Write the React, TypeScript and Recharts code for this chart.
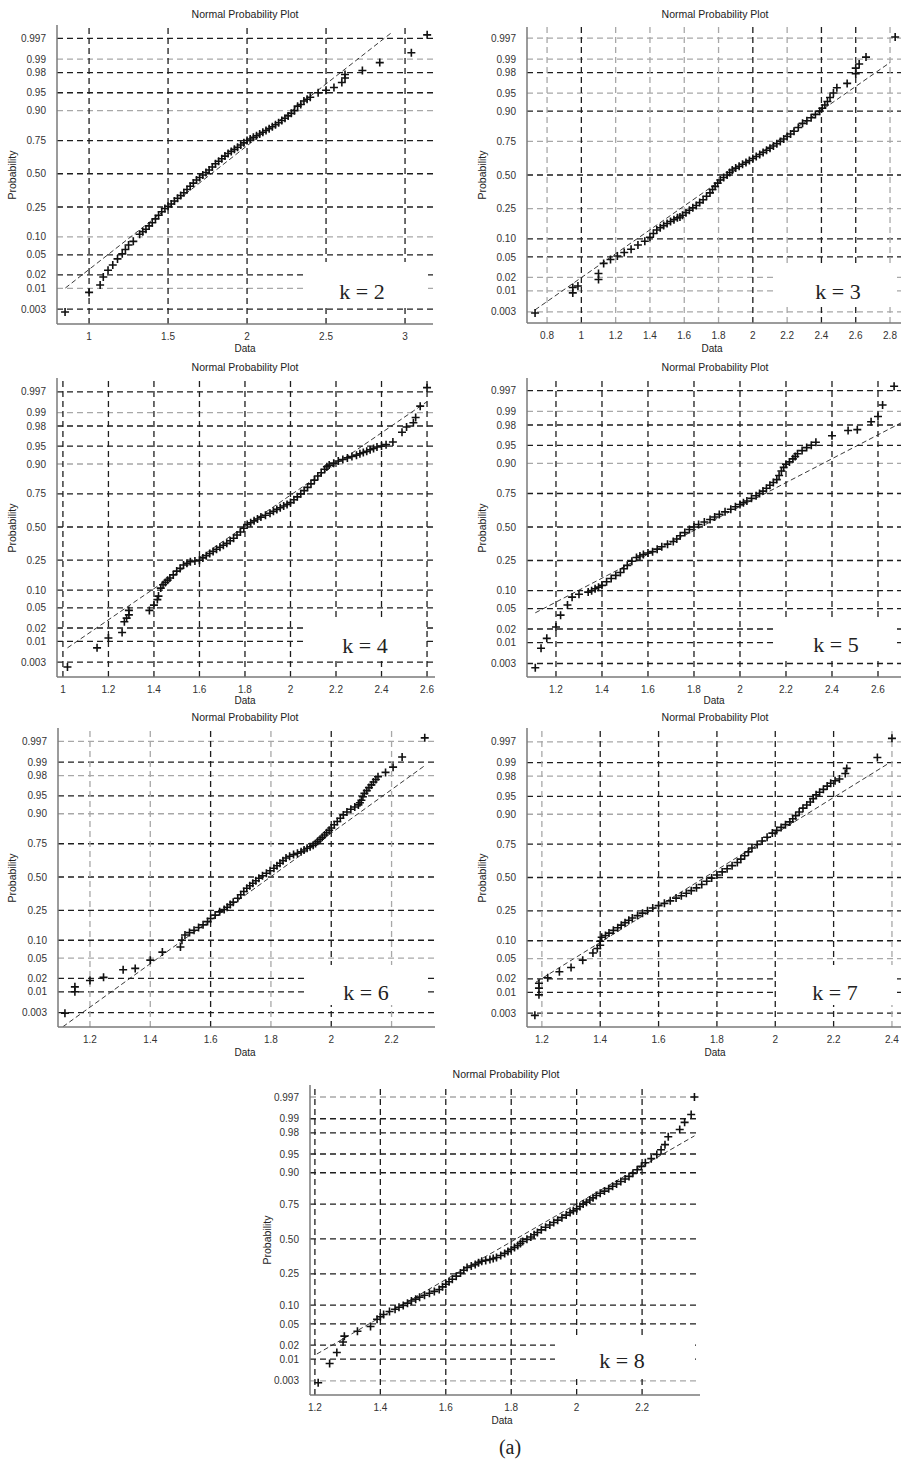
import { ComposedChart, Scatter, Line, XAxis, YAxis, ReferenceLine } from 'recharts';

// probability axis ticks (shared by every panel)
const probTicks = [0.003, 0.01, 0.02, 0.05, 0.1, 0.25, 0.5, 0.75, 0.9, 0.95, 0.98, 0.99, 0.997];
const probLabels = ['0.003', '0.01', '0.02', '0.05', '0.10', '0.25', '0.50', '0.75', '0.90', '0.95', '0.98', '0.99', '0.997'];

// [data, probability]
const k2Points: [number, number][] = [
  [0.848, 0.0025], [1.0, 0.008], [1.07, 0.012], [1.09, 0.018], [1.12, 0.025], [1.15, 0.032], [1.18, 0.042],
  [1.21, 0.052], [1.23, 0.062], [1.25, 0.074], [1.28, 0.085], [1.32, 0.11], [1.36, 0.13], [1.4, 0.16],
  [1.44, 0.2], [1.48, 0.24], [1.52, 0.27], [1.56, 0.31], [1.6, 0.35], [1.64, 0.4], [1.68, 0.45], [1.72, 0.49],
  [1.76, 0.53], [1.8, 0.58], [1.84, 0.62], [1.88, 0.66], [1.92, 0.69], [1.96, 0.72], [2.0, 0.75], [2.04, 0.77],
  [2.08, 0.79], [2.12, 0.81], [2.16, 0.83], [2.2, 0.85], [2.24, 0.87], [2.28, 0.89], [2.32, 0.915], [2.36, 0.93],
  [2.4, 0.94], [2.45, 0.95], [2.5, 0.955], [2.55, 0.96], [2.6, 0.968], [2.62, 0.974], [2.62, 0.978],
  [2.73, 0.982], [2.84, 0.988], [3.04, 0.993], [3.14, 0.9976],
  [1.34, 0.12], [1.38, 0.145], [1.42, 0.18], [1.46, 0.22], [1.5, 0.255], [1.54, 0.29], [1.58, 0.33],
  [1.62, 0.375], [1.66, 0.425], [1.7, 0.47], [1.74, 0.51], [1.78, 0.555], [1.82, 0.6], [1.86, 0.64],
  [1.9, 0.675], [1.94, 0.705], [1.98, 0.735], [2.02, 0.76], [2.06, 0.78], [2.1, 0.8], [2.14, 0.82],
  [2.18, 0.84], [2.22, 0.86], [2.26, 0.88], [2.3, 0.9], [2.34, 0.92], [2.38, 0.935],
];
const k2Line: [number, number][] = [[0.85, 0.0102], [2.92, 0.998]];
const k2Ticks = [1, 1.5, 2, 2.5, 3];
const k2TickLabels = ['1', '1.5', '2', '2.5', '3'];

const k3Points: [number, number][] = [
  [0.73, 0.0028], [0.95, 0.009], [0.95, 0.012], [0.98, 0.013], [1.1, 0.018], [1.1, 0.024], [1.13, 0.038],
  [1.17, 0.045], [1.21, 0.052], [1.25, 0.06], [1.29, 0.068], [1.33, 0.08], [1.37, 0.092], [1.4, 0.106],
  [1.44, 0.135], [1.48, 0.155], [1.52, 0.175], [1.56, 0.195], [1.59, 0.21], [1.63, 0.24], [1.67, 0.27],
  [1.71, 0.31], [1.75, 0.36], [1.78, 0.41], [1.81, 0.46], [1.85, 0.5], [1.88, 0.54], [1.92, 0.57], [1.96, 0.6],
  [2.0, 0.63], [2.04, 0.66], [2.08, 0.69], [2.12, 0.72], [2.16, 0.75], [2.2, 0.78], [2.24, 0.81], [2.29, 0.85],
  [2.34, 0.875], [2.39, 0.9], [2.42, 0.92], [2.45, 0.94], [2.49, 0.96], [2.55, 0.967], [2.6, 0.979],
  [2.6, 0.984], [2.62, 0.987], [2.66, 0.991], [2.83, 0.9972],
  [1.42, 0.12], [1.46, 0.145], [1.5, 0.165], [1.54, 0.185], [1.575, 0.2], [1.61, 0.225], [1.65, 0.255],
  [1.69, 0.29], [1.73, 0.335], [1.765, 0.385], [1.795, 0.435], [1.83, 0.48], [1.865, 0.52], [1.9, 0.555],
  [1.94, 0.585], [1.98, 0.615], [2.02, 0.645], [2.06, 0.675], [2.1, 0.705], [2.14, 0.735], [2.18, 0.765],
  [2.22, 0.795], [2.265, 0.83], [2.315, 0.862], [2.365, 0.888], [2.405, 0.91], [2.435, 0.93], [2.47, 0.95],
];
const k3Line: [number, number][] = [[0.73, 0.0034], [2.8, 0.988]];
const k3Ticks = [0.8, 1, 1.2, 1.4, 1.6, 1.8, 2, 2.2, 2.4, 2.6, 2.8];
const k3TickLabels = ['0.8', '1', '1.2', '1.4', '1.6', '1.8', '2', '2.2', '2.4', '2.6', '2.8'];

const k4Points: [number, number][] = [
  [1.02, 0.0022], [1.15, 0.007], [1.2, 0.012], [1.26, 0.016], [1.27, 0.027], [1.28, 0.032], [1.29, 0.037],
  [1.29, 0.045], [1.38, 0.045], [1.4, 0.056], [1.42, 0.08], [1.43, 0.107], [1.45, 0.13], [1.47, 0.15],
  [1.5, 0.185], [1.53, 0.22], [1.56, 0.24], [1.6, 0.25], [1.63, 0.28], [1.66, 0.31], [1.69, 0.34], [1.72, 0.37],
  [1.75, 0.41], [1.78, 0.46], [1.81, 0.52], [1.84, 0.55], [1.87, 0.58], [1.91, 0.61], [1.94, 0.64],
  [1.97, 0.665], [2.0, 0.69], [2.03, 0.73], [2.06, 0.77], [2.09, 0.81], [2.12, 0.85], [2.15, 0.88],
  [2.17, 0.896], [2.21, 0.91], [2.25, 0.92], [2.29, 0.928], [2.32, 0.935], [2.35, 0.942], [2.38, 0.948],
  [2.42, 0.953], [2.45, 0.958], [2.49, 0.973], [2.51, 0.979], [2.54, 0.983], [2.55, 0.987], [2.57, 0.993],
  [2.6, 0.9977],
  [1.415, 0.07], [1.44, 0.12], [1.46, 0.14], [1.485, 0.165], [1.515, 0.2], [1.545, 0.23], [1.58, 0.245],
  [1.615, 0.265], [1.645, 0.295], [1.675, 0.325], [1.705, 0.355], [1.735, 0.39], [1.765, 0.435], [1.795, 0.49],
  [1.825, 0.535], [1.855, 0.565], [1.89, 0.595], [1.925, 0.625], [1.955, 0.652], [1.985, 0.677], [2.015, 0.71],
  [2.045, 0.75], [2.075, 0.79], [2.105, 0.83], [2.135, 0.865], [2.16, 0.89], [2.19, 0.903], [2.23, 0.915],
  [2.27, 0.924], [2.305, 0.932], [2.335, 0.938], [2.365, 0.945], [2.4, 0.95],
];
const k4Line: [number, number][] = [[1.02, 0.007], [2.6, 0.9946]];
const k4Ticks = [1, 1.2, 1.4, 1.6, 1.8, 2, 2.2, 2.4, 2.6];
const k4TickLabels = ['1', '1.2', '1.4', '1.6', '1.8', '2', '2.2', '2.4', '2.6'];

const k5Points: [number, number][] = [
  [1.11, 0.0023], [1.135, 0.0073], [1.16, 0.0125], [1.2, 0.022], [1.22, 0.038], [1.25, 0.058], [1.27, 0.079],
  [1.3, 0.088], [1.34, 0.095], [1.37, 0.107], [1.4, 0.12], [1.44, 0.15], [1.48, 0.18], [1.51, 0.22],
  [1.55, 0.27], [1.58, 0.29], [1.62, 0.31], [1.66, 0.345], [1.71, 0.385], [1.74, 0.43], [1.78, 0.48],
  [1.82, 0.52], [1.87, 0.56], [1.91, 0.6], [1.96, 0.64], [2.0, 0.675], [2.03, 0.7], [2.07, 0.735], [2.1, 0.765],
  [2.13, 0.8], [2.16, 0.83], [2.18, 0.87], [2.2, 0.897], [2.23, 0.915], [2.25, 0.93], [2.29, 0.945],
  [2.33, 0.956], [2.4, 0.967], [2.47, 0.974], [2.51, 0.975], [2.57, 0.983], [2.6, 0.987], [2.62, 0.993],
  [2.67, 0.9977],
  [1.355, 0.1], [1.385, 0.113], [1.42, 0.135], [1.46, 0.165], [1.495, 0.2], [1.53, 0.245], [1.565, 0.28],
  [1.6, 0.3], [1.64, 0.328], [1.685, 0.365], [1.725, 0.405], [1.76, 0.455], [1.8, 0.5], [1.845, 0.54],
  [1.89, 0.58], [1.935, 0.62], [1.98, 0.658], [2.015, 0.688], [2.05, 0.718], [2.085, 0.75], [2.115, 0.782],
  [2.145, 0.815], [2.17, 0.85], [2.19, 0.885], [2.215, 0.905], [2.24, 0.922], [2.27, 0.938], [2.31, 0.95],
];
const k5Line: [number, number][] = [[1.11, 0.042], [2.71, 0.983]];
const k5Ticks = [1.2, 1.4, 1.6, 1.8, 2, 2.2, 2.4, 2.6];
const k5TickLabels = ['1.2', '1.4', '1.6', '1.8', '2', '2.2', '2.4', '2.6'];

const k6Points: [number, number][] = [
  [1.117, 0.0029], [1.15, 0.01], [1.15, 0.013], [1.2, 0.018], [1.245, 0.021], [1.31, 0.03], [1.35, 0.032],
  [1.4, 0.046], [1.44, 0.064], [1.5, 0.078], [1.515, 0.12], [1.545, 0.14], [1.575, 0.166], [1.6, 0.2],
  [1.63, 0.24], [1.655, 0.27], [1.675, 0.305], [1.7, 0.36], [1.72, 0.41], [1.74, 0.45], [1.76, 0.49],
  [1.785, 0.53], [1.81, 0.57], [1.83, 0.61], [1.85, 0.65], [1.875, 0.675], [1.9, 0.695], [1.92, 0.72],
  [1.94, 0.74], [1.955, 0.765], [1.97, 0.79], [1.985, 0.815], [2.0, 0.84], [2.02, 0.87], [2.04, 0.896],
  [2.065, 0.915], [2.09, 0.928], [2.1, 0.94], [2.11, 0.955], [2.125, 0.965], [2.14, 0.973], [2.155, 0.979],
  [2.18, 0.983], [2.205, 0.987], [2.235, 0.9925], [2.31, 0.9976],
  [1.505, 0.1], [1.53, 0.13], [1.56, 0.153], [1.59, 0.183], [1.615, 0.22], [1.645, 0.255], [1.665, 0.288],
  [1.69, 0.333], [1.71, 0.385], [1.73, 0.43], [1.75, 0.47], [1.772, 0.51], [1.797, 0.55], [1.82, 0.59],
  [1.84, 0.63], [1.862, 0.663], [1.888, 0.685], [1.91, 0.708], [1.93, 0.73], [1.948, 0.752], [1.963, 0.778],
  [1.978, 0.803], [1.993, 0.828], [2.01, 0.855], [2.03, 0.883], [2.052, 0.906], [2.078, 0.922], [2.095, 0.934],
  [2.105, 0.948], [2.118, 0.96], [2.133, 0.969], [2.148, 0.976],
];
const k6Line: [number, number][] = [[1.11, 0.0012], [2.31, 0.988]];
const k6Ticks = [1.2, 1.4, 1.6, 1.8, 2, 2.2];
const k6TickLabels = ['1.2', '1.4', '1.6', '1.8', '2', '2.2'];

const k7Points: [number, number][] = [
  [1.176, 0.0026], [1.19, 0.0087], [1.19, 0.0125], [1.19, 0.016], [1.22, 0.021], [1.26, 0.028], [1.3, 0.034],
  [1.34, 0.047], [1.375, 0.063], [1.4, 0.085], [1.405, 0.113], [1.43, 0.13], [1.46, 0.154], [1.485, 0.18],
  [1.51, 0.206], [1.545, 0.235], [1.58, 0.268], [1.62, 0.3], [1.66, 0.338], [1.695, 0.375], [1.73, 0.417],
  [1.765, 0.47], [1.8, 0.52], [1.835, 0.57], [1.87, 0.62], [1.895, 0.67], [1.92, 0.725], [1.955, 0.77],
  [1.99, 0.816], [2.02, 0.845], [2.05, 0.87], [2.07, 0.895], [2.095, 0.92], [2.12, 0.937], [2.14, 0.953],
  [2.165, 0.963], [2.19, 0.972], [2.22, 0.977], [2.24, 0.9825], [2.245, 0.9865], [2.35, 0.9925], [2.4, 0.9976],
  [1.39, 0.075], [1.4, 0.098], [1.418, 0.12], [1.445, 0.142], [1.472, 0.167], [1.498, 0.193], [1.528, 0.22],
  [1.562, 0.25], [1.6, 0.284], [1.64, 0.318], [1.678, 0.356], [1.712, 0.395], [1.748, 0.443], [1.782, 0.495],
  [1.818, 0.545], [1.852, 0.595], [1.882, 0.645], [1.908, 0.698], [1.938, 0.748], [1.972, 0.793], [2.005, 0.83],
  [2.035, 0.858], [2.06, 0.883], [2.082, 0.908], [2.108, 0.929], [2.13, 0.945], [2.152, 0.958], [2.178, 0.968],
  [2.205, 0.975],
];
const k7Line: [number, number][] = [[1.18, 0.017], [2.39, 0.9898]];
const k7Ticks = [1.2, 1.4, 1.6, 1.8, 2, 2.2, 2.4];
const k7TickLabels = ['1.2', '1.4', '1.6', '1.8', '2', '2.2', '2.4'];

const k8Points: [number, number][] = [
  [1.21, 0.0027], [1.245, 0.008], [1.267, 0.014], [1.286, 0.023], [1.29, 0.03], [1.33, 0.037], [1.37, 0.045],
  [1.39, 0.06], [1.41, 0.072], [1.445, 0.087], [1.47, 0.099], [1.495, 0.115], [1.52, 0.13], [1.55, 0.147],
  [1.58, 0.164], [1.6, 0.19], [1.62, 0.218], [1.645, 0.255], [1.665, 0.29], [1.69, 0.31], [1.71, 0.333],
  [1.735, 0.345], [1.755, 0.36], [1.78, 0.39], [1.8, 0.42], [1.82, 0.45], [1.835, 0.48], [1.86, 0.515],
  [1.88, 0.55], [1.905, 0.59], [1.93, 0.625], [1.955, 0.66], [1.98, 0.695], [2.0, 0.72], [2.02, 0.75],
  [2.04, 0.775], [2.06, 0.8], [2.085, 0.823], [2.11, 0.846], [2.135, 0.867], [2.16, 0.887], [2.185, 0.91],
  [2.21, 0.93], [2.245, 0.949], [2.27, 0.966], [2.28, 0.976], [2.315, 0.983], [2.33, 0.988], [2.35, 0.992],
  [2.36, 0.997],
  [1.4, 0.066], [1.428, 0.08], [1.457, 0.093], [1.483, 0.107], [1.508, 0.122], [1.535, 0.138], [1.565, 0.155],
  [1.59, 0.177], [1.61, 0.204], [1.632, 0.236], [1.655, 0.272], [1.678, 0.3], [1.7, 0.322], [1.722, 0.339],
  [1.745, 0.352], [1.768, 0.375], [1.79, 0.405], [1.81, 0.435], [1.828, 0.465], [1.848, 0.497], [1.87, 0.532],
  [1.892, 0.57], [1.918, 0.607], [1.942, 0.642], [1.968, 0.678], [1.99, 0.707], [2.01, 0.735], [2.03, 0.762],
  [2.05, 0.787], [2.072, 0.812], [2.098, 0.835], [2.122, 0.856], [2.148, 0.877], [2.172, 0.898], [2.198, 0.92],
  [2.228, 0.94], [2.258, 0.958],
];
const k8Line: [number, number][] = [[1.206, 0.013], [2.36, 0.977]];
const k8Ticks = [1.2, 1.4, 1.6, 1.8, 2, 2.2];
const k8TickLabels = ['1.2', '1.4', '1.6', '1.8', '2', '2.2'];

// inverse normal CDF (Acklam) for the probability scale
function probit(p: number): number {
  const a = [-39.69683028665376, 220.9460984245205, -275.9285104469687, 138.357751867269, -30.66479806614716, 2.506628277459239];
  const b = [-54.47609879822406, 161.5858368580409, -155.6989798598866, 66.80131188771972, -13.28068155288572];
  const c = [-0.007784894002430293, -0.3223964580411365, -2.400758277161838, -2.549732539343734, 4.374664141464968, 2.938163982698783];
  const d = [0.007784695709041462, 0.3224671290700398, 2.445134137142996, 3.754408661907416];
  const tail = (q: number) =>
    (((((c[0] * q + c[1]) * q + c[2]) * q + c[3]) * q + c[4]) * q + c[5]) /
    ((((d[0] * q + d[1]) * q + d[2]) * q + d[3]) * q + 1);
  if (p < 0.02425) return tail(Math.sqrt(-2 * Math.log(p)));
  if (p > 1 - 0.02425) return -tail(Math.sqrt(-2 * Math.log(1 - p)));
  const q = p - 0.5;
  const r = q * q;
  return ((((((a[0] * r + a[1]) * r + a[2]) * r + a[3]) * r + a[4]) * r + a[5]) * q) /
    (((((b[0] * r + b[1]) * r + b[2]) * r + b[3]) * r + b[4]) * r + 1);
}

const SANS = '"Liberation Sans", Arial, sans-serif';
const SERIF = '"Liberation Serif", "Times New Roman", serif';
const DARK = '#1e1e1e';
const LIGHT = '#a8a8a8';

const panels = [
  { k: 2, points: k2Points, line: k2Line, ticks: k2Ticks, tickLabels: k2TickLabels,
    plot: { l: 57, t: 25, r: 433, b: 324 }, xDomain: [0.797, 3.177], yDomain: [-3.05, 3.02],
    title: [245, 14], dataLbl: [245, 349], probX: 12, kBox: { l: 305, t: 262, r: 428, b: 305 }, kPos: [362, 292],
    lightX: [] as number[], lightY: [0.99, 0.9, 0.1, 0.01] },
  { k: 3, points: k3Points, line: k3Line, ticks: k3Ticks, tickLabels: k3TickLabels,
    plot: { l: 527, t: 27, r: 901, b: 323 }, xDomain: [0.683, 2.864], yDomain: [-2.97, 2.97],
    title: [715, 14], dataLbl: [712, 349], probX: 482, kBox: { l: 777, t: 263, r: 895, b: 305 }, kPos: [838, 292],
    lightX: [0.8, 1.2, 1.4, 1.6, 1.8, 2.2, 2.8], lightY: [0.997, 0.99, 0.95, 0.75, 0.25, 0.02, 0.01, 0.003] },
  { k: 4, points: k4Points, line: k4Line, ticks: k4Ticks, tickLabels: k4TickLabels,
    plot: { l: 57, t: 378, r: 435, b: 677 }, xDomain: [0.974, 2.635], yDomain: [-3.05, 3.03],
    title: [245, 367], dataLbl: [245, 701], probX: 12, kBox: { l: 303, t: 617, r: 425, b: 658 }, kPos: [365, 646],
    lightX: [], lightY: [0.99, 0.9] },
  { k: 5, points: k5Points, line: k5Line, ticks: k5Ticks, tickLabels: k5TickLabels,
    plot: { l: 527, t: 378, r: 901, b: 677 }, xDomain: [1.074, 2.7], yDomain: [-3.02, 3.0],
    title: [715, 367], dataLbl: [714, 701], probX: 482, kBox: { l: 777, t: 617, r: 895, b: 658 }, kPos: [836, 645],
    lightX: [], lightY: [0.99, 0.9] },
  { k: 6, points: k6Points, line: k6Line, ticks: k6Ticks, tickLabels: k6TickLabels,
    plot: { l: 58, t: 728, r: 435, b: 1027 }, xDomain: [1.094, 2.344], yDomain: [-3.04, 3.02],
    title: [245, 717], dataLbl: [245, 1053], probX: 12, kBox: { l: 307, t: 965, r: 427, b: 1005 }, kPos: [366, 993],
    lightX: [1.2, 1.4, 1.8, 2.2], lightY: [0.997, 0.98, 0.9, 0.05] },
  { k: 7, points: k7Points, line: k7Line, ticks: k7Ticks, tickLabels: k7TickLabels,
    plot: { l: 527, t: 728, r: 901, b: 1027 }, xDomain: [1.149, 2.431], yDomain: [-3.03, 3.03],
    title: [715, 717], dataLbl: [715, 1053], probX: 482, kBox: { l: 777, t: 965, r: 893, b: 1005 }, kPos: [835, 993],
    lightX: [1.2, 2.4], lightY: [0.997, 0.98, 0.9, 0.05] },
  { k: 8, points: k8Points, line: k8Line, ticks: k8Ticks, tickLabels: k8TickLabels,
    plot: { l: 310, t: 1085, r: 700, b: 1395 }, xDomain: [1.185, 2.377], yDomain: [-3.02, 2.98],
    title: [506, 1074], dataLbl: [502, 1421], probX: 267, kBox: { l: 555, t: 1335, r: 695, b: 1377 }, kPos: [622, 1361],
    lightX: [], lightY: [0.997, 0.003] },
];

const Plus = (props: any) => {
  const { cx, cy } = props;
  if (cx == null || cy == null) return null;
  return <path d={`M${cx - 4},${cy}h8M${cx},${cy - 4}v8`} stroke="#111" strokeWidth={1.6} fill="none" />;
};

const centered = (x: number, y: number, extra: any = {}) => ({
  position: 'absolute' as const, left: x, top: y, transform: 'translate(-50%, -50%)', whiteSpace: 'nowrap' as const,
  lineHeight: 1, ...extra,
});

function ProbPlot({ cfg }: { cfg: (typeof panels)[number] }) {
  const { plot } = cfg;
  const zTicks = probTicks.map(probit);
  const pts = cfg.points.map(([x, p]) => ({ x, z: probit(p) }));
  const ref = cfg.line.map(([x, p]) => ({ x, z: probit(p) }));
  const w = plot.r - plot.l + 52;
  const h = plot.b - plot.t + 32;
  const axisLine = { stroke: '#7a7a7a', strokeWidth: 1.5 };
  const tick = { fontSize: 10, fill: '#333', fontFamily: SANS };

  return (
    <>
      <div style={{ position: 'absolute', left: plot.l - 50, top: plot.t - 6 }}>
        <ComposedChart width={w} height={h} margin={{ top: 6, right: 2, bottom: 8, left: 5 }}>
          <XAxis type="number" dataKey="x" domain={cfg.xDomain} ticks={cfg.ticks} interval={0}
            tickFormatter={(v: number, i: number) => cfg.tickLabels[i]} tickLine={false} tickMargin={3}
            height={18} axisLine={axisLine} tick={tick} allowDataOverflow />
          <XAxis xAxisId="top" type="number" orientation="top" domain={cfg.xDomain} tick={false}
            tickLine={false} height={0} axisLine={axisLine} allowDataOverflow />
          <YAxis type="number" dataKey="z" domain={cfg.yDomain} ticks={zTicks} interval={0}
            tickFormatter={(v: number, i: number) => probLabels[i]} tickLine={false} tickMargin={5}
            width={45} axisLine={axisLine} tick={tick} allowDataOverflow />
          <YAxis yAxisId="right" type="number" orientation="right" domain={cfg.yDomain} tick={false}
            tickLine={false} width={0} axisLine={axisLine} allowDataOverflow />
          {probTicks.map((p, i) => (
            <ReferenceLine key={'y' + p} y={zTicks[i]} stroke={cfg.lightY.includes(p) ? LIGHT : DARK}
              strokeWidth={1.3} strokeDasharray="6 4" />
          ))}
          {cfg.ticks.map((t) => (
            <ReferenceLine key={'x' + t} x={t} stroke={cfg.lightX.includes(t) ? LIGHT : DARK}
              strokeWidth={1.3} strokeDasharray="6 4" />
          ))}
          <Line data={ref} dataKey="z" type="linear" dot={false} stroke="#222" strokeWidth={0.9}
            strokeDasharray="5 3" isAnimationActive={false} />
          <Scatter data={pts} dataKey="z" shape={Plus} isAnimationActive={false} />
        </ComposedChart>
      </div>
      <div style={centered(cfg.title[0], cfg.title[1], { fontFamily: SANS, fontSize: 10.5, color: '#222' })}>
        Normal Probability Plot
      </div>
      <div style={centered(cfg.dataLbl[0], cfg.dataLbl[1], { fontFamily: SANS, fontSize: 10, color: '#222' })}>
        Data
      </div>
      <div style={centered(cfg.probX, (plot.t + plot.b) / 2,
        { fontFamily: SANS, fontSize: 10.5, color: '#222', transform: 'translate(-50%, -50%) rotate(-90deg)' })}>
        Probability
      </div>
      <div style={{ position: 'absolute', left: cfg.kBox.l, top: cfg.kBox.t, width: cfg.kBox.r - cfg.kBox.l,
        height: cfg.kBox.b - cfg.kBox.t, background: '#fff' }} />
      <div style={centered(cfg.kPos[0], cfg.kPos[1], { fontFamily: SERIF, fontSize: 22, color: '#222' })}>
        k = {cfg.k}
      </div>
    </>
  );
}

export default function App() {
  return (
    <div style={{ position: 'absolute', left: 0, top: 0, width: 903, height: 1464, background: '#fff', overflow: 'hidden' }}>
      {panels.map((cfg) => (
        <ProbPlot key={cfg.k} cfg={cfg} />
      ))}
      <div style={centered(510, 1447, { fontFamily: SERIF, fontSize: 20, color: '#222' })}>(a)</div>
    </div>
  );
}
